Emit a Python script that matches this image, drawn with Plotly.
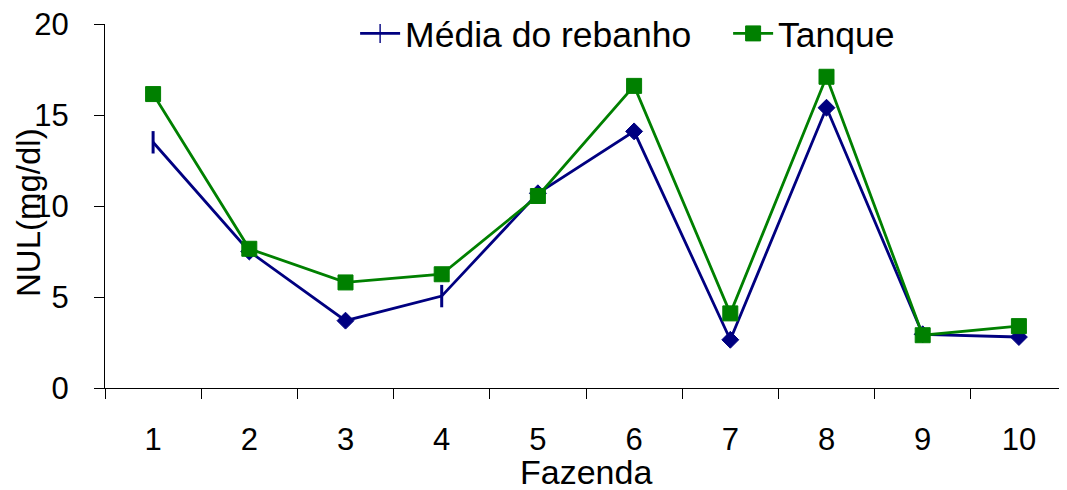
import plotly.graph_objects as go

fazendas = [1, 2, 3, 4, 5, 6, 7, 8, 9, 10]
media_rebanho = [13.5, 7.5, 3.7, 5.05, 10.7, 14.1, 2.65, 15.4, 2.95, 2.8]
tanque = [16.15, 7.65, 5.8, 6.25, 10.55, 16.6, 4.1, 17.1, 2.9, 3.4]
tick_labels = [str(f) for f in fazendas]
y_ticks = [0, 5, 10, 15, 20]
boundaries = [f + 0.5 for f in range(0, 11)]

media_symbols = ["line-ns", "diamond", "diamond", "line-ns", "diamond",
                 "diamond", "diamond", "diamond", "diamond", "diamond"]
media_sizes = [16 if s == "line-ns" else 13 for s in media_symbols]
media_lw = [3 if s == "line-ns" else 1 for s in media_symbols]

NAVY = "#000080"
GREEN = "#008000"
FONT = "Liberation Sans, Arial, sans-serif"

fig = go.Figure()
fig.add_trace(go.Scatter(
    x=fazendas, y=media_rebanho, name="Média do rebanho", mode="lines+markers",
    line=dict(color=NAVY, width=2.8),
    marker=dict(symbol=media_symbols, size=media_sizes, color=NAVY, opacity=1,
                line=dict(color=NAVY, width=media_lw)),
))
fig.add_trace(go.Scatter(
    x=fazendas, y=tanque, name="Tanque", mode="lines+markers",
    line=dict(color=GREEN, width=2.8),
    marker=dict(symbol="square", size=15, color=GREEN, opacity=1,
                line=dict(color=GREEN, width=1)),
))

fig.update_layout(
    width=1059, height=482,
    margin=dict(l=97, r=0, t=16, b=102, autoexpand=False),
    paper_bgcolor="white", plot_bgcolor="white",
    font=dict(family=FONT, color="black", size=32),
    showlegend=True,
    legend=dict(orientation="h", x=0.26, xanchor="left", y=0.973, yanchor="middle",
                font=dict(size=35.5), bgcolor="rgba(0,0,0,0)", itemwidth=40,
                entrywidth=318, tracegroupgap=0, traceorder="normal"),
    annotations=[
        dict(text="NUL(mg/dl)", xref="paper", yref="paper", x=0, y=0.5,
             xshift=-77, yshift=-7, xanchor="center", yanchor="middle", textangle=-90,
             showarrow=False, font=dict(size=33)),
        dict(text="Fazenda", xref="paper", yref="paper", x=0.5, y=0,
             yshift=-84, xanchor="center", yanchor="middle",
             showarrow=False, font=dict(size=34)),
    ],
)
fig.update_xaxes(
    range=[0.5, 10.5], tickmode="array", tickvals=fazendas, ticktext=tick_labels,
    ticks="", ticklabelstandoff=24, showgrid=False, zeroline=False, automargin=False,
    showline=True, linecolor="black", linewidth=1,
    tickfont=dict(size=31),
    minor=dict(tickmode="array", tickvals=boundaries, ticks="outside", ticklen=10,
               tickcolor="black", tickwidth=1, showgrid=False),
)
fig.update_yaxes(
    range=[0, 20], tickmode="array", tickvals=y_ticks,
    ticktext=[str(v) for v in y_ticks], ticklabeloverflow="allow",
    ticks="outside", ticklen=10, tickcolor="black", tickwidth=1, automargin=False,
    showgrid=False, zeroline=False, showline=True, linecolor="black", linewidth=1,
    tickfont=dict(size=31), ticklabelstandoff=19,
)

fig.write_html("out.html")
